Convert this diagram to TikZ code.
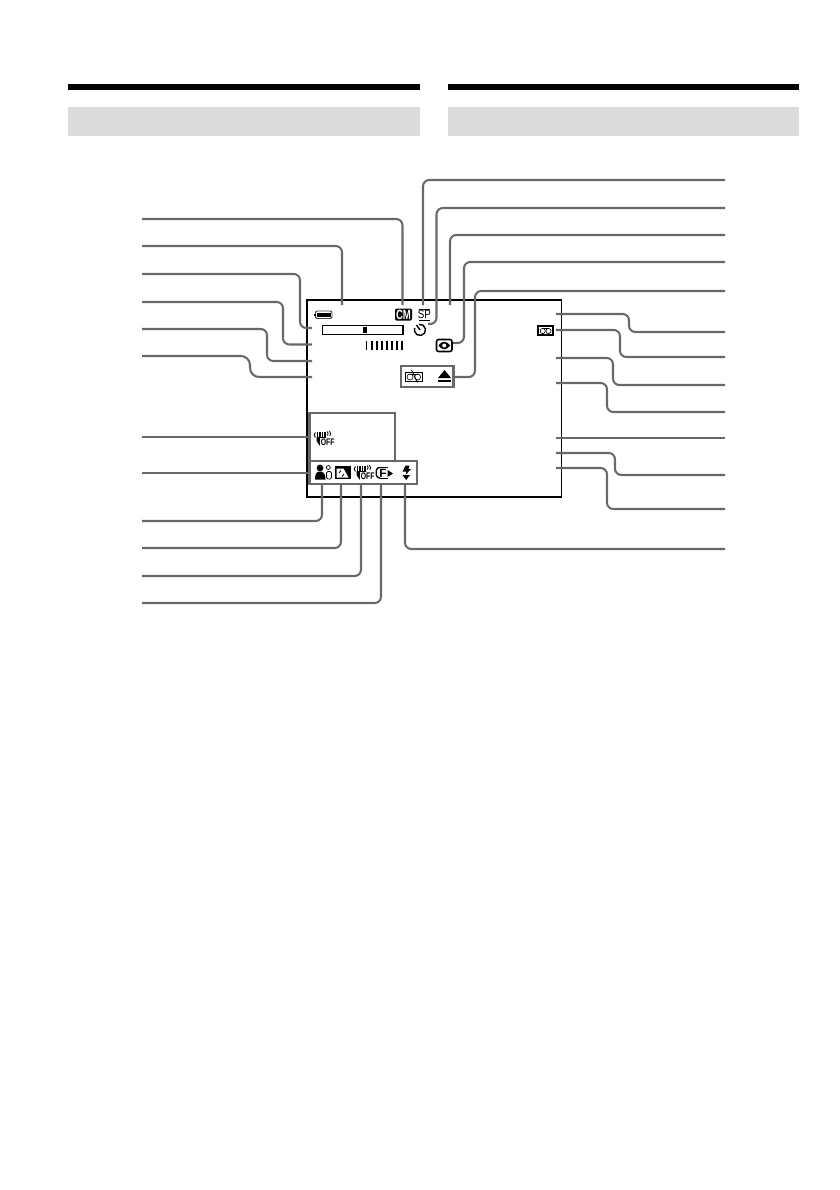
\documentclass[tikz,border=0pt]{standalone}
\usepackage{fontspec}
\setsansfont{Liberation Sans}

\tikzset{
    leader/.style={draw=leadgray, line width=1.45pt, rounded corners=4.5pt},
    osdbox/.style={draw=leadgray, line width=1.45pt},
    frameline/.style={draw=black, line width=1pt},
    icontext/.style={inner sep=0pt, font=\sffamily\bfseries},
    handoff/.pic={
        % fingers, palm and the word on top
        \foreach \fx in {4.6,7,9.4,11.8}
            \draw[black, line width=1.2pt] (\fx,1) -- (\fx,7);
        \fill[black] (3.6,6) -- (13,6) -- (13,8) -- (13,13) -- (9.5,14.5) -- (6.5,14.5) -- (3.6,10) -- cycle;
        \draw[black, line width=0.6pt] (2.4,1.5) .. controls (0.8,3) and (0.8,5) .. (2.4,6.5);
        \draw[black, line width=0.6pt] (14.2,0.5) .. controls (15.4,1.5) and (15.4,3.5) .. (14.4,4.5);
        \draw[black, line width=0.6pt] (16.4,0) .. controls (17.9,1.5) and (17.9,3.5) .. (16.8,5);
        \fill[white] (7.4,7.4) rectangle (20,15);
        \node[icontext, font=\sffamily\bfseries\fontsize{6.8}{7}\selectfont, xscale=0.72, transform shape, anchor=west] (off) at (7.6,11.2) {OFF};
    },
}
\definecolor{leadgray}{HTML}{686868}
\definecolor{bargray}{HTML}{DCDCDC}

\begin{document}
\begin{tikzpicture}[x=0.025cm, y=-0.025cm]
    \useasboundingbox (0,0) rectangle (840,1190);

    % page heads
    \fill[black] (68,84) rectangle (420,90);
    \fill[black] (448,84) rectangle (799,90);
    \fill[bargray] (68,107) rectangle (420,136);
    \fill[bargray] (448,107) rectangle (799,136);

    % viewfinder frame
    \draw[frameline] (307,300) rectangle (561.5,497);

    % grouped indicators
    \draw[osdbox] (309.5,413) rectangle (395,461);
    \draw[osdbox] (309.5,461) rectangle (417,484);
    \draw[osdbox] (401,366) rectangle (453.5,387);

    % free ends, left side
    \coordinate (l1) at (142,219);
    \coordinate (l2) at (142,246);
    \coordinate (l3) at (142,274);
    \coordinate (l4) at (142,302);
    \coordinate (l5) at (142,329);
    \coordinate (l6) at (142,356);
    \coordinate (l7) at (142,437);
    \coordinate (l8) at (142,473);
    \coordinate (l9) at (142,521);
    \coordinate (l10) at (142,548);
    \coordinate (l11) at (142,576);
    \coordinate (l12) at (142,603);

    % free ends, right side
    \coordinate (r1) at (725,180);
    \coordinate (r2) at (725,208);
    \coordinate (r3) at (725,235);
    \coordinate (r4) at (725,262);
    \coordinate (r5) at (725,291);
    \coordinate (r6) at (725,332);
    \coordinate (r7) at (725,357);
    \coordinate (r8) at (725,385);
    \coordinate (r9) at (725,412);
    \coordinate (r10) at (725,438);
    \coordinate (r11) at (725,475);
    \coordinate (r12) at (725,509);
    \coordinate (r13) at (725,549);

    % end points inside the frame
    \coordinate (p1) at (402.5,305);
    \coordinate (p2) at (342,305);
    \coordinate (b3) at (300,328);
    \coordinate (p3) at (312,328);
    \coordinate (b4) at (283,344.5);
    \coordinate (p4) at (312,344.5);
    \coordinate (b5) at (267,361);
    \coordinate (p5) at (312,361);
    \coordinate (b6) at (250,377);
    \coordinate (p6) at (312,377);
    \coordinate (p7) at (309,437);
    \coordinate (p8) at (309,473);
    \coordinate (p9) at (322,484);
    \coordinate (p10) at (341,484);
    \coordinate (p11) at (361,484);
    \coordinate (p12) at (381,484);
    \coordinate (q1) at (423,305);
    \coordinate (c2) at (436.5,324);
    \coordinate (q2) at (428,324);
    \coordinate (q3) at (450,305);
    \coordinate (c4) at (464,343);
    \coordinate (q4) at (453,343);
    \coordinate (c5) at (475,377);
    \coordinate (q5) at (454,377);
    \coordinate (s1) at (556,314);
    \coordinate (d1) at (629,332);
    \coordinate (s2) at (556,330);
    \coordinate (d2) at (620,357);
    \coordinate (s3) at (556,358);
    \coordinate (d3) at (613,385);
    \coordinate (s4) at (556,383);
    \coordinate (d4) at (607,412);
    \coordinate (s5) at (555.5,438);
    \coordinate (s6) at (556,453);
    \coordinate (d6) at (615,475);
    \coordinate (s7) at (556,468);
    \coordinate (d7) at (607,509);
    \coordinate (s8) at (405,484);

    % leaders from the left
    \draw[leader] (l1) -| (p1);
    \draw[leader] (l2) -| (p2);
    \draw[leader] (l3) -| (b3) -- (p3);
    \draw[leader] (l4) -| (b4) -- (p4);
    \draw[leader] (l5) -| (b5) -- (p5);
    \draw[leader, rounded corners=6.5pt] (l6) -| (b6) -- (p6);
    \draw[leader] (l7) -- (p7);
    \draw[leader] (l8) -- (p8);
    \draw[leader] (l9) -| (p9);
    \draw[leader] (l10) -| (p10);
    \draw[leader] (l11) -| (p11);
    \draw[leader] (l12) -| (p12);

    % leaders from the right
    \draw[leader] (r1) -| (q1);
    \draw[leader] (r2) -| (c2) -- (q2);
    \draw[leader] (r3) -| (q3);
    \draw[leader] (r4) -| (c4) -- (q4);
    \draw[leader] (r5) -| (c5) -- (q5);
    \draw[leader] (s1) -| (d1) -- (r6);
    \draw[leader] (s2) -| (d2) -- (r7);
    \draw[leader] (s3) -| (d3) -- (r8);
    \draw[leader] (s4) -| (d4) -- (r9);
    \draw[leader] (s5) -- (r10);
    \draw[leader] (s6) -| (d6) -- (r11);
    \draw[leader] (s7) -| (d7) -- (r12);
    \draw[leader] (r13) -| (s8);

    % battery
    \draw[black!75, line width=0.7pt, rounded corners=1pt] (315.5,311) rectangle (332,318.5);
    \fill[black] (317,312.5) rectangle (330.5,317);
    \fill[black] (314,313.5) rectangle (315.5,316);

    % cassette memory chip
    \fill[black, rounded corners=1pt] (395,308.5) rectangle (412,320.5);
    \node[text=white, icontext, font=\sffamily\bfseries\fontsize{9.5}{9.5}\selectfont, xscale=0.72, transform shape] (cmchip) at (403.5,314.5) {CM};

    % speed mode
    \node[icontext, font=\sffamily\fontsize{8.5}{8.5}\selectfont, xscale=0.82, transform shape] (spmode) at (424.3,314.8) {SP};
    \draw[black, line width=0.6pt] (419,309.5) -- (430,309.5);
    \draw[black, line width=0.8pt] (419,320.5) -- (430,320.5);

    % self-timer
    \draw[black, line width=1pt] (419,324.4) arc (-100:200:5.6);
    \draw[black, line width=1pt] (416.5,325) -- (420,330);

    % zoom bar and counter ticks
    \draw[black, line width=0.8pt] (322.5,325.5) rectangle (403,334.5);
    \fill[black] (363,327) rectangle (367,333);
    \foreach \tx in {366.5,371.6,376.7,381.8,386.9,392,397.1,402.2}
        \draw[black, line width=1.3pt] (\tx,341) -- (\tx,350);

    % eye mark
    \draw[black, line width=1.1pt, rounded corners=1.5pt] (436.5,339.5) rectangle (452,351.5);
    \fill[black] (438.5,345.5) .. controls (441.5,340.5) and (447,340.5) .. (450,345.5)
        .. controls (447,350.5) and (441.5,350.5) .. (438.5,345.5) -- cycle;
    \fill[white] (444.2,345.5) circle (2);

    % tape mark
    \draw[black, line width=0.8pt] (538,326) rectangle (553,335);
    \draw[black, line width=0.45pt] (542.7,331) circle (2.6);
    \draw[black, line width=0.45pt] (548.5,331) circle (2.6);
    \draw[black, line width=0.45pt] (542.7,328.4) -- (548.5,328.4);

    % no tape mark and eject
    \draw[black, line width=0.6pt] (405.5,372) rectangle (422,381.5);
    \draw[black, line width=0.45pt] (410,377) circle (3);
    \draw[black, line width=0.45pt] (417.6,377) circle (3);
    \draw[black, line width=0.45pt] (410,374) -- (417.6,374);
    \draw[black, line width=0.6pt] (411.5,370) -- (417.5,382.5);
    \fill[black] (438,378) -- (444.5,370) -- (451,378) -- cycle;
    \fill[black] (438,379.5) rectangle (451,382);

    % hand marks
    \pic (upperhand) at (313,431) {handoff};
    \pic (lowerhand) at (353,465) {handoff};

    % portrait mark
    \fill[black] (320,468) circle (3.4);
    \fill[black] (315,479.5) .. controls (315,473) and (317,471.5) .. (320,471.5)
        .. controls (323,471.5) and (325.5,473) .. (325.5,479.5) -- cycle;
    \draw[black, line width=0.5pt] (328.3,467.5) circle (2);
    \draw[black, line width=0.5pt, rounded corners=1pt] (326.5,479) -- (326.5,471.5) -- (331.5,471.5) -- (331.5,479) -- cycle;

    % back light mark
    \fill[black] (335,465.5) rectangle (350.5,479);
    \fill[white] (336.5,468.5) -- (343.5,468.5) -- (348.5,477.5) -- (336.5,477.5) -- cycle;
    \draw[black, line width=0.6pt] (339,473) -- (341,470.5);
    \draw[black, line width=0.6pt] (342,476.5) -- (344,474);

    % focus mark
    \draw[black, line width=1pt, rounded corners=1.5pt] (380,467.5) -- (377.5,467.5) -- (375.5,472.5) -- (377.5,478) -- (380,478);
    \draw[black, line width=0.7pt] (380,467.5) -- (388,467.5);
    \draw[black, line width=0.7pt] (380,478) -- (388,478);
    \node[icontext, font=\sffamily\bfseries\fontsize{8.5}{8.5}\selectfont] (focusf) at (383,473) {F};
    \fill[black] (387.5,470) -- (393,473.5) -- (387.5,477) -- cycle;

    % flash mark
    \fill[black] (405.5,465.5) -- (409.5,465.5) -- (408.5,469) -- (411,469) -- (405.5,475) -- (406.5,471.5) -- (402.5,471.5) -- cycle;
    \fill[black] (402.5,475) -- (410,475) -- (406.2,480) -- cycle;
\end{tikzpicture}
\end{document}
